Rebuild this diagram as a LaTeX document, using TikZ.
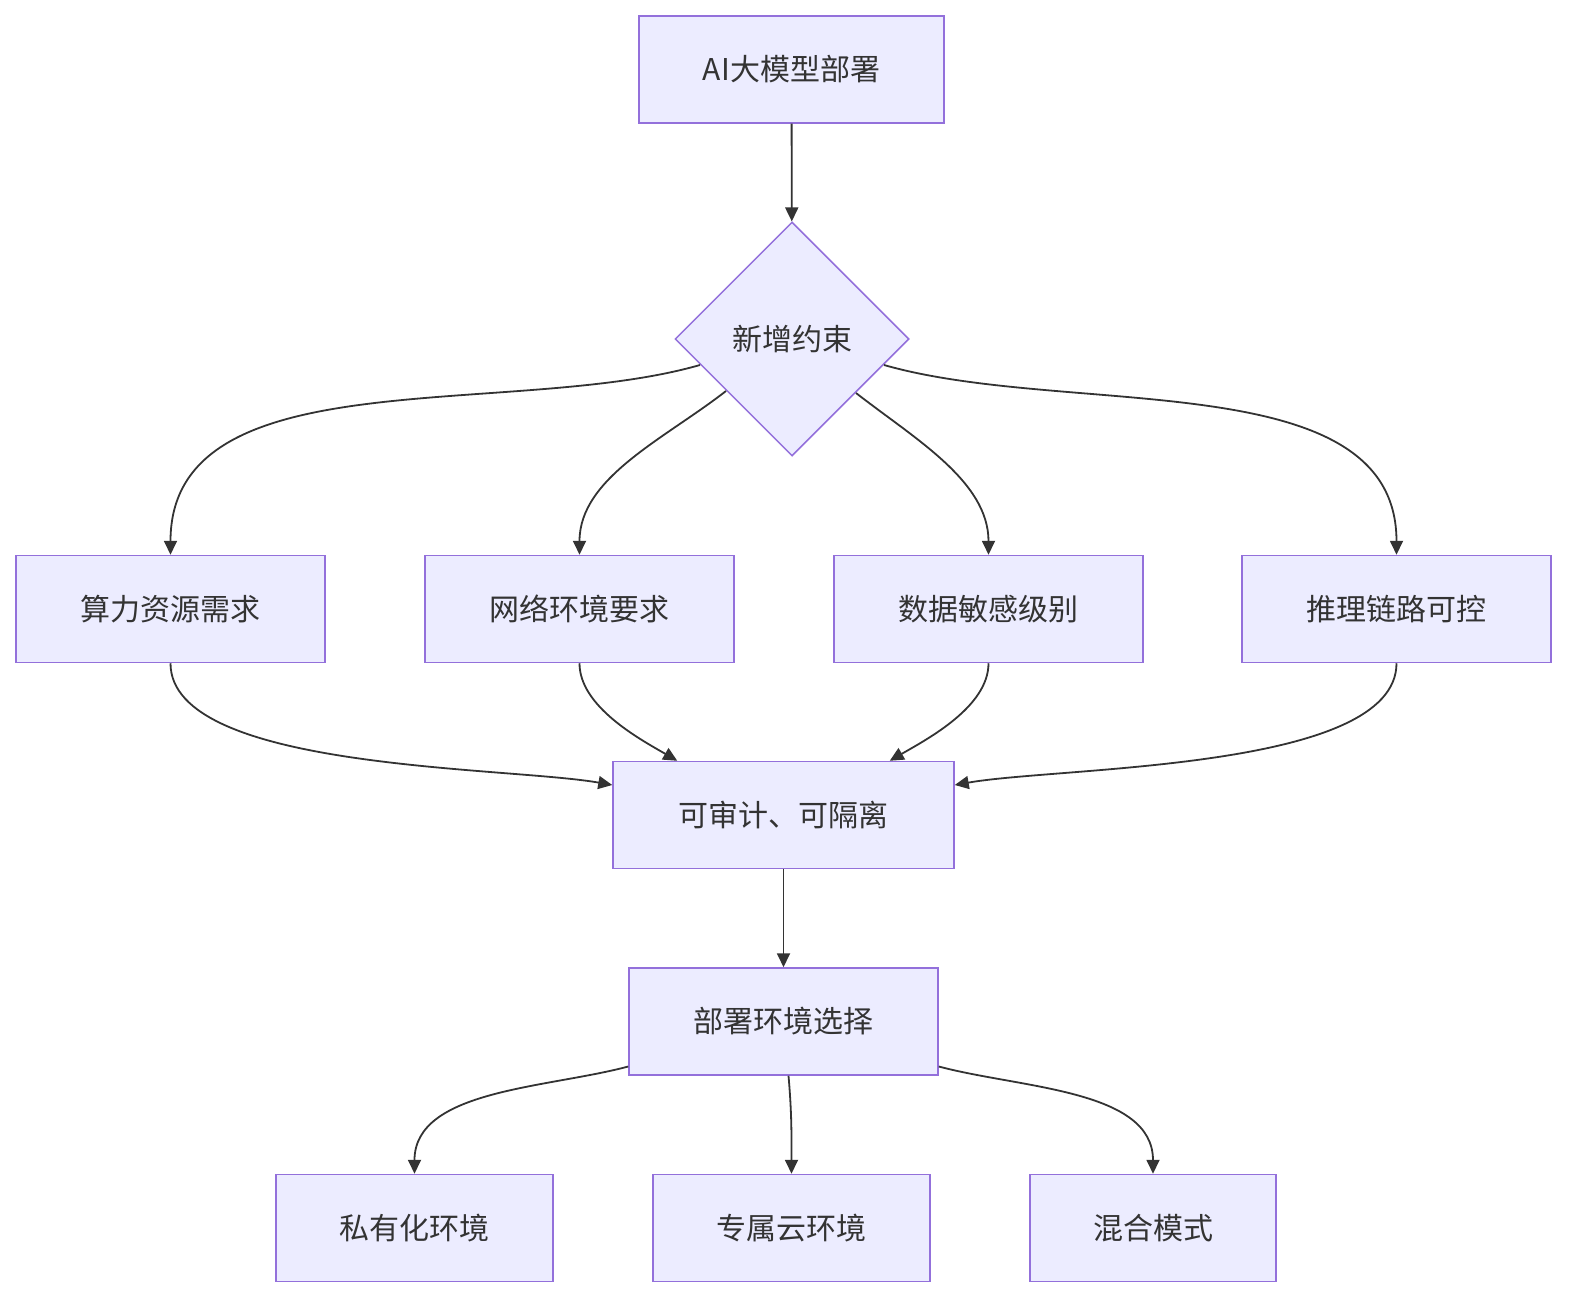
\documentclass[tikz,border=0pt]{standalone}
\usepackage{fontspec}
\setmainfont{Noto Sans CJK SC}
\usetikzlibrary{shapes.geometric,arrows.meta,calc}
\definecolor{nfill}{HTML}{ECECFF}
\definecolor{nborder}{HTML}{9370DB}
\definecolor{eline}{HTML}{333333}
\begin{document}
\begin{tikzpicture}[x=1pt,y=1pt,
  box/.style={draw=nborder,fill=nfill,line width=1.5pt,minimum height=107pt,inner sep=0pt,font=\fontsize{30}{36}\selectfont,text=eline},
  dia/.style={diamond,draw=nborder,fill=nfill,line width=1.5pt,minimum width=234pt,minimum height=234pt,inner sep=0pt,font=\fontsize{30}{36}\selectfont,text=eline},
  edge/.style={draw=eline,line width=1.8pt,-{Triangle[length=14pt,width=13pt]}}]
\useasboundingbox (0,0) rectangle (1580,-1308);
\node[box,minimum width=305pt] (a) at (791.5,-69.5) {AI大模型部署};
\node[dia] (d) at (792,-339) {新增约束};
\node[box,minimum width=309pt] (r1) at (170.5,-609) {算力资源需求};
\node[box,minimum width=309pt] (r2) at (579.5,-609) {网络环境要求};
\node[box,minimum width=309pt] (r3) at (988.5,-609) {数据敏感级别};
\node[box,minimum width=309pt] (r4) at (1396.5,-609) {推理链路可控};
\node[box,minimum width=341pt] (c) at (783.5,-815) {可审计、可隔离};
\node[box,minimum width=309pt] (s) at (783.5,-1021.5) {部署环境选择};
\node[box,minimum width=277pt] (b1) at (414.5,-1228) {私有化环境};
\node[box,minimum width=277pt] (b2) at (791.5,-1228) {专属云环境};
\node[box,minimum width=246pt] (b3) at (1153,-1228) {混合模式};
\draw[edge] (a) -- (d);
\draw[edge] ($(d.center)+(-92,-26)$) to[out=196,in=90,looseness=0.9] (r1.north);
\draw[edge] ($(d.center)+(-66,-52)$) to[out=218,in=90,looseness=0.9] (r2.north);
\draw[edge] ($(d.center)+(64,-54)$) to[out=-38,in=90,looseness=0.9] (r3.north);
\draw[edge] ($(d.center)+(92,-26)$) to[out=-16,in=90,looseness=0.9] (r4.north);
\draw[edge] (r1.south) to[out=270,in=170,looseness=0.6] ($(c.west)+(0,30)$);
\draw[edge] (r2.south) to[out=270,in=150,looseness=0.8] ($(c.north west)+(65,0)$);
\draw[edge] (r3.south) to[out=270,in=30,looseness=0.8] ($(c.north east)+(-65,0)$);
\draw[edge] (r4.south) to[out=270,in=10,looseness=0.6] ($(c.east)+(0,30)$);
\draw[edge] (c) -- (s);
\draw[edge] ($(s.west)+(0,-45)$) to[out=195,in=90,looseness=0.9] (b1.north);
\draw[edge] ($(s.south)+(5,0)$) to[out=-85,in=90] (b2.north);
\draw[edge] ($(s.east)+(0,-45)$) to[out=-15,in=90,looseness=0.9] (b3.north);
\end{tikzpicture}
\end{document}
